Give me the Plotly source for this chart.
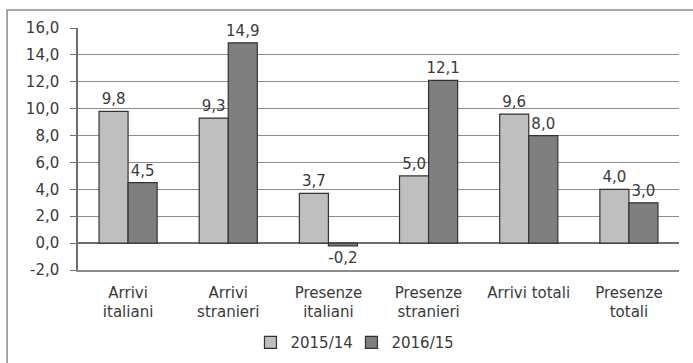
import plotly.graph_objects as go

categories = ["Arrivi<br>italiani", "Arrivi<br>stranieri", "Presenze<br>italiani",
              "Presenze<br>stranieri", "Arrivi totali", "Presenze<br>totali"]
s2015 = [9.8, 9.3, 3.7, 5.0, 9.6, 4.0]
s2016 = [4.5, 14.9, -0.2, 12.1, 8.0, 3.0]
names = ["2015/14", "2016/15"]
colors = ["#bfbfbf", "#7f7f7f"]
ytick_vals = [-2, 0, 2, 4, 6, 8, 10, 12, 14, 16]
ytick_text = ["-2,0", "0,0", "2,0", "4,0", "6,0", "8,0", "10,0", "12,0", "14,0", "16,0"]

FONT = "DejaVu Sans, Verdana, sans-serif"
TXT = "#3a3a3a"

fig = go.Figure()
for name, vals, col in zip(names, [s2015, s2016], colors):
    fig.add_trace(go.Bar(
        x=categories, y=vals, name=name,
        marker=dict(color=col, line=dict(color="#333333", width=1.2)),
        text=[f"{v:.1f}".replace(".", ",") for v in vals],
        texttemplate="%{text}", textposition="outside", constraintext="none",
        textfont=dict(family=FONT, size=15, color=TXT),
        cliponaxis=False,
    ))

fig.update_layout(
    width=693, height=363,
    margin=dict(l=78, r=14, t=28, b=93, autoexpand=False),
    paper_bgcolor="white", plot_bgcolor="white",
    barmode="group", bargap=0.42, bargroupgap=0,
    font=dict(family=FONT, size=15, color=TXT),
    legend=dict(orientation="h", x=0.455, y=-0.30, xanchor="center", yanchor="middle",
                font=dict(family=FONT, size=15, color=TXT), itemwidth=30,
                entrywidth=56, bgcolor="rgba(0,0,0,0)"),
    yaxis=dict(range=[-2, 16], tickvals=ytick_vals, ticktext=ytick_text,
               automargin=False, ticklabelstandoff=8,
               showgrid=True, gridcolor="#8c8c8c", gridwidth=1,
               zeroline=True, zerolinecolor="#6e6e6e", zerolinewidth=1.5,
               showline=True, linecolor="#6e6e6e", linewidth=1.5,
               ticks="outside", ticklen=6, tickcolor="#6e6e6e",
               tickfont=dict(family=FONT, size=15, color=TXT)),
    xaxis=dict(showline=True, linecolor="#8c8c8c", linewidth=1.5, automargin=False,
               ticks="", ticklabelstandoff=8,
               tickfont=dict(family=FONT, size=15, color=TXT)),
    shapes=[dict(type="rect", xref="paper", yref="paper",
                 x0=-0.118, x1=1.05, y0=-0.45, y1=1.074,
                 line=dict(color="#8a8a8a", width=1.5), fillcolor="rgba(0,0,0,0)")],
)

fig.write_html("out.html")
